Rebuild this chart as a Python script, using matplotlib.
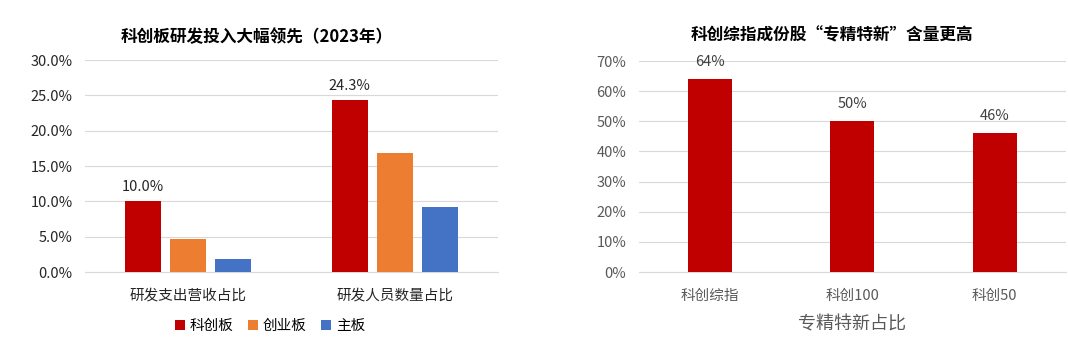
import numpy as np
import matplotlib
matplotlib.use('Agg')
import matplotlib.pyplot as plt
from matplotlib.ticker import FuncFormatter
from matplotlib.patches import Patch

plt.rcParams['font.family'] = ['Noto Sans CJK SC', 'DejaVu Sans']

# left chart data
left_title = '科创板研发投入大幅领先（2023年）'
left_categories = ['研发支出营收占比', '研发人员数量占比']
left_series = ['科创板', '创业板', '主板']
left_values = [
    [10.0, 24.3],   # 科创板
    [4.7, 16.9],    # 创业板
    [1.8, 9.2],     # 主板
]
left_colors = ['#C00000', '#ED7D31', '#4472C4']

# right chart data
right_title = '科创综指成份股“专精特新”含量更高'
right_categories = ['科创综指', '科创100', '科创50']
right_values = [64, 50, 46]
right_xlabel = '专精特新占比'

fig = plt.figure(figsize=(10.68, 3.51), dpi=100)

grid_c = '#D9D9D9'

# ---- left chart ----
ax1 = fig.add_axes([0.0796, 0.225, 0.3867, 0.604])
x = np.arange(len(left_categories))
bw = 0.174
step = 0.218
for i, (name, vals) in enumerate(zip(left_series, left_values)):
    pos = x + (i - 1) * step
    ax1.bar(pos, vals, width=bw, color=left_colors[i], label=name, zorder=3)
    if i == 0:
        for p, v in zip(pos, vals):
            ax1.text(p, v + 1.1, f'{v:.1f}%', ha='center', va='bottom',
                     fontsize=10.5, color='#262626')
ax1.set_xlim(-0.5, len(left_categories) - 0.5)
ax1.set_ylim(0, 30)
ax1.set_yticks(np.arange(0, 30.1, 5))
ax1.yaxis.set_major_formatter(FuncFormatter(lambda v, _: f'{v:.1f}%'))
ax1.set_xticks(x)
ax1.set_xticklabels(left_categories)
ax1.grid(axis='y', color=grid_c, linewidth=0.8, zorder=0)
for s in ['top', 'right', 'left']:
    ax1.spines[s].set_visible(False)
ax1.spines['bottom'].set_color(grid_c)
ax1.tick_params(axis='both', length=0, labelsize=10.5, colors='#262626')
ax1.tick_params(axis='x', pad=12)
ax1.tick_params(axis='y', pad=9)
ax1.set_title(left_title, fontsize=12, fontweight='bold', pad=13, x=0.416)
handles = [Patch(facecolor=c, label=n) for c, n in zip(left_colors, left_series)]
fig.legend(handles=handles, loc='center', bbox_to_anchor=(270 / 1068, 1 - 326 / 351),
           ncol=3, frameon=False, fontsize=10.5, handlelength=0.7, handleheight=0.7,
           handletextpad=0.3, columnspacing=1.0)

# ---- right chart ----
ax2 = fig.add_axes([0.598, 0.225, 0.400, 0.601])
x2 = np.arange(len(right_categories))
ax2.bar(x2, right_values, width=0.31, color='#C00000', zorder=3)
for p, v in zip(x2, right_values):
    ax2.text(p, v + 3.5, f'{v}%', ha='center', va='bottom', fontsize=10.5, color='#404040')
ax2.set_xlim(-0.5, len(right_categories) - 0.5)
ax2.set_ylim(0, 70)
ax2.set_yticks(np.arange(0, 71, 10))
ax2.yaxis.set_major_formatter(FuncFormatter(lambda v, _: f'{v:.0f}%'))
ax2.set_xticks(x2)
ax2.set_xticklabels(right_categories)
ax2.grid(axis='y', color=grid_c, linewidth=0.8, zorder=0)
for s in ['top', 'right', 'left']:
    ax2.spines[s].set_visible(False)
ax2.spines['bottom'].set_color(grid_c)
ax2.tick_params(axis='both', length=0, labelsize=10.5, colors='#595959')
ax2.tick_params(axis='x', pad=12)
ax2.tick_params(axis='y', pad=9)
ax2.set_xlabel(right_xlabel, fontsize=13, color='#595959', labelpad=9)
ax2.set_title(right_title, fontsize=12, fontweight='bold', pad=15, x=0.452)

fig.savefig('out.png', dpi=100, facecolor='white')
